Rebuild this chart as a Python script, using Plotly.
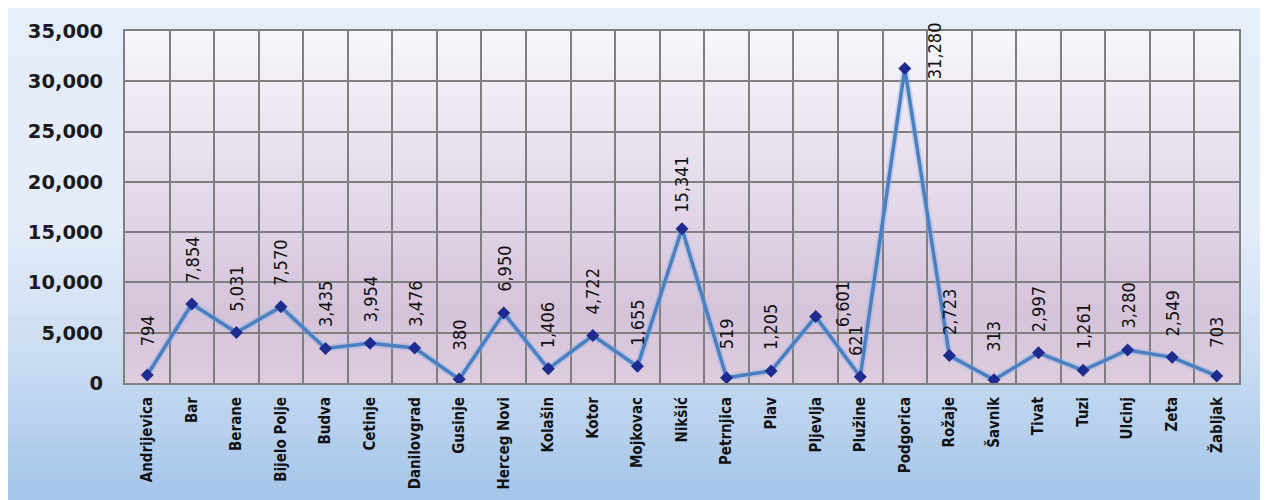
import plotly.graph_objects as go

municipalities = ["Andrijevica", "Bar", "Berane", "Bijelo Polje", "Budva", "Cetinje",
                  "Danilovgrad", "Gusinje", "Herceg Novi", "Kolašin", "Kotor", "Mojkovac",
                  "Nikšić", "Petrnjica", "Plav", "Pljevlja", "Plužine", "Podgorica",
                  "Rožaje", "Šavnik", "Tivat", "Tuzi", "Ulcinj", "Zeta", "Žabljak"]
values = [794, 7854, 5031, 7570, 3435, 3954, 3476, 380, 6950, 1406, 4722, 1655,
          15341, 519, 1205, 6601, 621, 31280, 2723, 313, 2997, 1261, 3280, 2549, 703]
y_ticks = [0, 5000, 10000, 15000, 20000, 25000, 30000, 35000]
y_tick_text = ["0", "5,000", "10,000", "15,000", "20,000", "25,000", "30,000", "35,000"]

# page has an 8px body margin; work in page pixels and convert
OFF = 8
W, H = 1268 - OFF, 500 - OFF
PL, PR, PT, PB = 125, 1239, 31, 383          # plot area in page pixels
L, T = PL - OFF, PT - OFF
R, B = W - (PR - OFF), H - (PB - OFF)
PW, PH = PR - PL, PB - PT


def px_x(p):
    return (p - PL) / PW


def px_y(p):
    return (PB - p) / PH


def hex2rgb(h):
    h = h.lstrip("#")
    return tuple(int(h[i:i + 2], 16) for i in (0, 2, 4))


def interp(stops, t):
    for (t0, c0), (t1, c1) in zip(stops, stops[1:]):
        if t0 <= t <= t1:
            f = 0 if t1 == t0 else (t - t0) / (t1 - t0)
            a, b = hex2rgb(c0), hex2rgb(c1)
            return "rgb(%d,%d,%d)" % tuple(round(a[i] + (b[i] - a[i]) * f) for i in range(3))
    return stops[-1][1]


shapes = []


def gradient(x0, x1, y0, y1, stops, n=70):
    step = (y1 - y0) / n
    for i in range(n):
        top = y0 + i * step
        bot = min(y1, top + step + 1)
        col = interp(stops, (i + 0.5) / n)
        shapes.append(dict(type="rect", xref="paper", yref="paper", layer="below",
                           x0=px_x(x0), x1=px_x(x1), y0=px_y(bot), y1=px_y(top),
                           fillcolor=col, line=dict(width=0)))


gradient(6, 1262, 5, 500, [(0, "#e5eefa"), (0.45, "#e4ecf8"), (0.72, "#c9dcf2"), (1.0, "#a4c4e9")])
gradient(PL, PR, PT, PB, [(0, "#f8f6fb"), (0.5, "#e2d7e8"), (0.8, "#d5c3da"), (1.0, "#decdde")], n=60)

fig = go.Figure()
fig.add_trace(go.Scatter(x=municipalities, y=values, mode="lines",
                         line=dict(color="rgba(140,175,230,0.4)", width=7),
                         hoverinfo="skip", showlegend=False))
fig.add_trace(go.Scatter(x=municipalities, y=values, mode="lines+markers",
                         line=dict(color="#4a7fc0", width=3.5),
                         marker=dict(symbol="diamond", size=10, color="#1f2b8f"),
                         showlegend=False))

narrow = "DejaVu Sans Condensed, Liberation Sans"
label_font = dict(family=narrow, size=18, color="#111111")
special = {"Podgorica": (30, 18), "Pljevlja": (27, 12), "Plužine": (-4, 36)}
annotations = []
for m, v in zip(municipalities, values):
    xs, ys = special.get(m, (0, 44))
    annotations.append(dict(x=m, y=v, xref="x", yref="y", text=f"{v:,}", showarrow=False,
                            textangle=-90, xanchor="center", yanchor="middle",
                            xshift=xs, yshift=ys, font=label_font))

fig.update_layout(
    width=W, height=H,
    margin=dict(l=L, r=R, t=T, b=B, pad=0),
    paper_bgcolor="white",
    plot_bgcolor="rgba(0,0,0,0)",
    shapes=shapes,
    annotations=annotations,
    xaxis=dict(type="category", range=[-0.5, len(municipalities) - 0.5], tickson="boundaries",
               showgrid=True, gridcolor="#7f7f80", gridwidth=2,
               showline=True, linecolor="#7f7f80", linewidth=2, mirror=True,
               ticks="", tickangle=-90, ticklabelstandoff=6, automargin=False,
               tickfont=dict(family=narrow, size=15, color="#111111", weight="bold"),
               fixedrange=True),
    yaxis=dict(range=[0, 35000], tickvals=y_ticks, ticktext=y_tick_text,
               showgrid=True, gridcolor="#7f7f80", gridwidth=2, zeroline=False,
               showline=True, linecolor="#7f7f80", linewidth=2, mirror=True,
               ticks="", ticklabelstandoff=16, automargin=False,
               tickfont=dict(family="DejaVu Sans", size=19.5, color="#1a1a1a", weight="bold"),
               fixedrange=True),
)

fig.write_html("out.html")
